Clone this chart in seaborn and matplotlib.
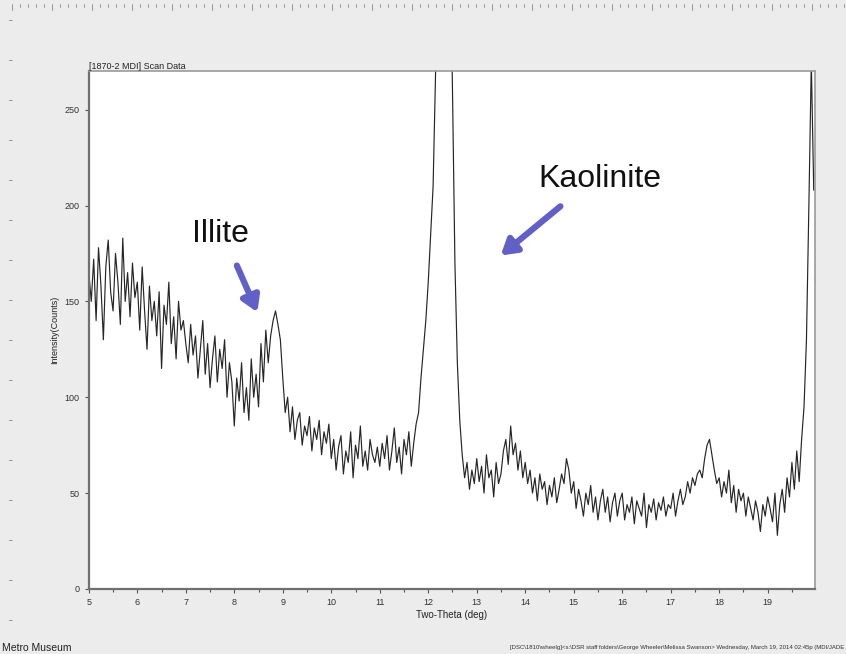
import matplotlib
matplotlib.use('Agg')
import matplotlib.pyplot as plt
from matplotlib.lines import Line2D
from matplotlib.ticker import MultipleLocator
import numpy as np
import pandas as pd
import seaborn as sns

# Scan data, 0.05 deg steps from 5.00 to 19.95 (one row per degree)
two_theta_start = 5.0
two_theta_step = 0.05
counts_5 = [165, 150, 172, 140, 178, 158, 130, 168, 182, 155,
            145, 175, 160, 138, 183, 150, 165, 142, 170, 152]
counts_6 = [160, 135, 168, 145, 125, 158, 140, 150, 132, 155,
            115, 148, 138, 160, 128, 142, 120, 150, 135, 140]
counts_7 = [128, 118, 138, 122, 132, 110, 125, 140, 112, 128,
            105, 120, 132, 108, 125, 115, 130, 100, 118, 108]
counts_8 = [85, 110, 98, 118, 92, 105, 88, 120, 100, 112,
            95, 128, 108, 135, 118, 132, 140, 145, 138, 130]
counts_9 = [110, 92, 100, 82, 95, 78, 88, 92, 75, 85,
            80, 90, 72, 84, 78, 88, 70, 82, 76, 86]
counts_10 = [68, 78, 62, 74, 80, 60, 72, 66, 82, 58,
             75, 68, 85, 64, 72, 62, 78, 70, 66, 74]
counts_11 = [64, 76, 68, 80, 62, 72, 84, 66, 74, 60,
             78, 70, 82, 64, 76, 86, 92, 110, 125, 140]
counts_12 = [160, 185, 210, 268, 340, 420, 470, 480, 430, 340,
             260, 170, 118, 88, 70, 58, 66, 52, 62, 55]
counts_13 = [68, 56, 64, 50, 70, 58, 62, 48, 66, 55,
             60, 72, 78, 65, 85, 70, 76, 62, 72, 58]
counts_14 = [66, 55, 62, 50, 58, 46, 60, 52, 56, 44,
             54, 48, 58, 45, 52, 60, 55, 68, 62, 50]
counts_15 = [56, 42, 52, 46, 38, 50, 44, 54, 40, 48,
             36, 46, 52, 40, 48, 35, 45, 50, 38, 46]
counts_16 = [50, 36, 44, 40, 48, 34, 46, 42, 38, 50,
             32, 44, 40, 47, 36, 45, 41, 48, 38, 44]
counts_17 = [42, 50, 38, 46, 52, 44, 48, 56, 50, 58,
             54, 60, 62, 58, 68, 75, 78, 70, 62, 55]
counts_18 = [58, 48, 56, 50, 62, 45, 54, 40, 52, 46,
             50, 38, 48, 42, 36, 46, 40, 30, 44, 38]
counts_19 = [48, 42, 35, 50, 28, 44, 52, 40, 58, 48,
             66, 52, 72, 56, 78, 95, 130, 200, 275, 208]

counts = (counts_5 + counts_6 + counts_7 + counts_8 + counts_9 + counts_10 +
          counts_11 + counts_12 + counts_13 + counts_14 + counts_15 +
          counts_16 + counts_17 + counts_18 + counts_19)
two_theta = two_theta_start + two_theta_step * np.arange(len(counts))
scan = pd.DataFrame({'two_theta': two_theta, 'counts': counts})

BG = '#ececec'
ARROW = '#6060c6'

sns.set_style('white')
plt.rcParams['font.family'] = ['Liberation Sans', 'DejaVu Sans']

fig = plt.figure(figsize=(8.46, 6.54), dpi=100, facecolor=BG)
ax = fig.add_axes([0.105, 0.0994, 0.858, 0.7916])
ax.set_facecolor('white')

sns.lineplot(data=scan, x='two_theta', y='counts', ax=ax,
             color='#262626', linewidth=0.85)

ax.set_xlim(5, 19.97)
ax.set_ylim(0, 270)
ax.xaxis.set_major_locator(MultipleLocator(1))
ax.xaxis.set_minor_locator(MultipleLocator(0.5))
ax.yaxis.set_major_locator(MultipleLocator(50))
ax.tick_params(axis='both', which='both', direction='out', colors='#555555',
               labelsize=6.5, labelcolor='#333333', bottom=True, left=True)
ax.tick_params(which='major', length=3, width=0.8)
ax.tick_params(which='minor', length=2, width=0.8)
for side in ['left', 'bottom']:
    ax.spines[side].set_color('#707070')
    ax.spines[side].set_linewidth(1.6)
for side in ['top', 'right']:
    ax.spines[side].set_color('#9a9a9a')
    ax.spines[side].set_linewidth(1.2)

ax.set_xlabel('Two-Theta (deg)', fontsize=7, color='#222222', labelpad=2)
ax.set_ylabel('Intensity(Counts)', fontsize=6.5, color='#222222', labelpad=4)
ax.set_title('[1870-2 MDI] Scan Data', fontsize=6.5, loc='left',
             color='#222222', pad=2)

# annotations
ax.text(7.72, 185, 'Illite', fontsize=23, ha='center', va='center',
        color='#111111')
ax.text(15.54, 214, 'Kaolinite', fontsize=23, ha='center', va='center',
        color='#111111')
head = '-|>,head_length=0.9,head_width=0.55'
ax.annotate('', xy=(8.5, 143), xytext=(8.03, 170),
            arrowprops=dict(arrowstyle=head, color=ARROW, lw=4.5))
ax.annotate('', xy=(13.45, 173), xytext=(14.77, 200.5),
            arrowprops=dict(arrowstyle=head, color=ARROW, lw=4.5))

# ruler marks around the page edge
for px in range(12, 846, 8):
    h = 6 if (px - 12) % 40 == 0 else 3
    fig.add_artist(Line2D([px / 846, px / 846], [1 - 4 / 654, 1 - (4 + h) / 654],
                          color='#8a8a8a', lw=0.6))
for py in range(20, 654, 40):
    fig.add_artist(Line2D([9 / 846, 12 / 846], [1 - py / 654, 1 - py / 654],
                          color='#8a8a8a', lw=0.6))

fig.text(2 / 846, 1 - 648 / 654, 'Metro Museum', fontsize=7.5,
         va='center', ha='left', color='#222222')
fig.text(844 / 846, 1 - 648 / 654,
         '[DSC\\1810\\wheelg]<s:\\DSR staff folders\\George Wheeler\\Melissa Swanson> '
         'Wednesday, March 19, 2014 02:45p (MDI/JADE',
         fontsize=4.3, va='center', ha='right', color='#333333')

fig.savefig('out.png', dpi=100, facecolor=BG)
